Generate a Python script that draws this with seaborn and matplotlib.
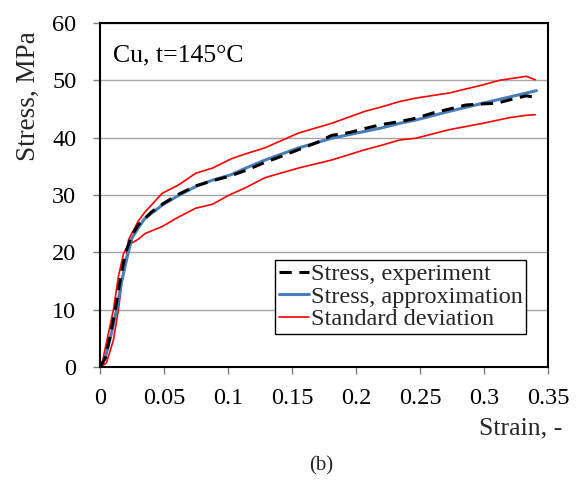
import numpy as np
import pandas as pd
import seaborn as sns
import matplotlib.pyplot as plt

# values (strain, stress in MPa)
exp_strain = [0, 0.004, 0.008, 0.012, 0.016, 0.02, 0.025, 0.03, 0.04, 0.05, 0.062, 0.075,
              0.088, 0.1, 0.114, 0.129, 0.14, 0.155, 0.17, 0.181, 0.195, 0.207, 0.22, 0.234,
              0.247, 0.26, 0.273, 0.286, 0.3, 0.31, 0.32, 0.333, 0.341]
exp_stress = [0, 1.5, 5.5, 10, 15.5, 20, 23, 24.8, 27, 28.6, 30.2, 31.6,
              32.5, 33.2, 34.3, 35.7, 36.6, 37.9, 39.2, 40.4, 40.9, 41.6, 42.3, 42.8,
              43.4, 44.3, 45.0, 45.7, 45.9, 46.0, 46.6, 47.3, 47.0]

approx_strain = [0, 0.004, 0.008, 0.013, 0.017, 0.021, 0.025, 0.03, 0.035, 0.049, 0.062,
                 0.075, 0.088, 0.102, 0.114, 0.129, 0.155, 0.181, 0.207, 0.22, 0.234,
                 0.247, 0.273, 0.299, 0.32, 0.341]
approx_stress = [0, 1.5, 5, 10, 15, 19, 22.5, 24.3, 25.9, 28.3, 30.0,
                 31.5, 32.6, 33.5, 34.7, 36.1, 38.2, 39.9, 41.1, 41.7, 42.5,
                 43.1, 44.6, 46.0, 47.1, 48.2]

upper_strain = [0, 0.005, 0.0105, 0.0144, 0.017, 0.021, 0.0223, 0.03, 0.0354, 0.0486,
                0.0617, 0.0748, 0.088, 0.1024, 0.114, 0.1286, 0.155, 0.181, 0.207, 0.2205,
                0.234, 0.2467, 0.273, 0.299, 0.312, 0.333, 0.34]
upper_stress = [0, 0.7, 4.7, 10, 14.6, 19.8, 22.2, 25.5, 27.1, 30.3,
                31.8, 33.8, 34.7, 36.3, 37.2, 38.2, 40.8, 42.5, 44.6, 45.4,
                46.3, 46.9, 47.8, 49.2, 50.0, 50.7, 50.1]

lower_strain = [0, 0.0013, 0.0066, 0.0105, 0.0144, 0.0184, 0.0223, 0.03, 0.0354, 0.0486,
                0.0617, 0.0748, 0.088, 0.101, 0.114, 0.1286, 0.155, 0.181, 0.207, 0.2205,
                0.234, 0.2467, 0.273, 0.299, 0.32, 0.333, 0.34]
lower_stress = [0, 0.35, 5.9, 10, 15.8, 19.8, 21.3, 22.3, 23.3, 24.5,
                26.2, 27.7, 28.4, 30.0, 31.3, 33.0, 34.7, 36.1, 37.9, 38.7,
                39.6, 39.9, 41.4, 42.5, 43.5, 43.9, 44.0]

x_ticks = [0, 0.05, 0.1, 0.15, 0.2, 0.25, 0.3, 0.35]
x_tick_labels = ["0", "0.05", "0.1", "0.15", "0.2", "0.25", "0.3", "0.35"]
y_ticks = [0, 10, 20, 30, 40, 50, 60]

sns.set_theme(style="ticks")
plt.rcParams["font.family"] = ["Liberation Serif", "DejaVu Serif"]

fig = plt.figure(figsize=(5.79, 4.84), dpi=100)
ax = fig.add_axes([0.1727, 0.2417, 0.7738, 0.7108])

red = "#ff0000"
sns.lineplot(x=upper_strain, y=upper_stress, ax=ax, color=red, lw=1.2, sort=False,
             label="Standard deviation", zorder=2)
sns.lineplot(x=lower_strain, y=lower_stress, ax=ax, color=red, lw=1.2, sort=False, zorder=2)
sns.lineplot(x=approx_strain, y=approx_stress, ax=ax, color="#4a7ebb", lw=2.2, sort=False,
             label="Stress, approximation", zorder=3)
sns.lineplot(x=exp_strain, y=exp_stress, ax=ax, color="black", lw=2.2, sort=False,
             dashes=False, label="Stress, experiment", zorder=4)
ax.lines[-1].set_linestyle((0, (4, 2.5)))

ax.set_xlim(0, 0.35)
ax.set_ylim(0, 60)
ax.set_xticks(x_ticks)
ax.set_xticklabels(x_tick_labels)
ax.set_yticks(y_ticks)
ax.tick_params(axis="both", labelsize=17.5, direction="out", length=5, width=1.0,
               color="#7f7f7f", labelcolor="black")
ax.tick_params(axis="x", pad=10)
ax.tick_params(axis="y", pad=12)
ax.yaxis.grid(True, color="#a6a6a6", lw=1.0)
ax.set_axisbelow(True)
for s in ax.spines.values():
    s.set_visible(True)
    s.set_color("black")
    s.set_linewidth(1.5)
ax.set_xlabel("")
ax.set_ylabel("")

handles, labels = ax.get_legend_handles_labels()
order = [labels.index("Stress, experiment"), labels.index("Stress, approximation"),
         labels.index("Standard deviation")]
leg = ax.legend([handles[i] for i in order], [labels[i] for i in order],
                loc="lower right", bbox_to_anchor=(0.951, 0.096), fontsize=17.5,
                frameon=True, fancybox=False, edgecolor="black", framealpha=1,
                handlelength=1.25, handletextpad=0.05, borderpad=0.15, labelspacing=0.02,
                borderaxespad=0)
leg.get_frame().set_linewidth(1.0)

ax.text(0.029, 0.905, "Cu, t=145°C", transform=ax.transAxes, fontsize=18.5,
        ha="left", va="center", color="black")

fig.text(562 / 579, 1 - 428 / 484, "Strain, -", fontsize=18.5, ha="right", va="center")
fig.text(28 / 579, 1 - 31 / 484, "Stress, MPa", fontsize=19.5, rotation=90,
         ha="center", va="top")
fig.text(321 / 579, 1 - 466 / 484, "(b)", fontsize=15, ha="center", va="center")

fig.savefig("out.png", dpi=100, facecolor="white")
